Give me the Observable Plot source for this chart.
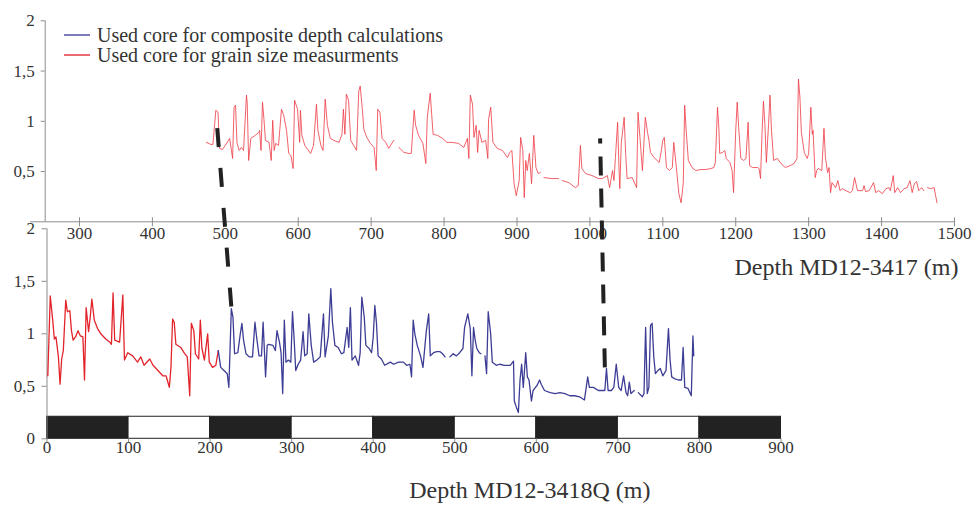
<!DOCTYPE html>
<html><head><meta charset="utf-8">
<script src="https://cdn.jsdelivr.net/npm/d3@7"></script>
<script src="https://cdn.jsdelivr.net/npm/@observablehq/plot@0.6"></script>
<style>
body{margin:0;background:#fff;}
#chart{position:relative;width:978px;height:508px;overflow:hidden;font-family:"Liberation Serif","Times New Roman",serif;}
#chart svg{position:absolute;left:0;top:0;}
#legend{position:absolute;left:64px;top:25px;font-size:20px;color:#333;line-height:20px;}
#legend .row{display:flex;align-items:center;height:20px;white-space:nowrap;}
#legend svg{position:static;margin-right:7px;}
</style></head><body><div id="chart"></div>
<script>
// ---- data ----
const legendLabels = ["Used core for composite depth calculations", "Used core for grain size measurments"];
const xLabelTop = "Depth MD12-3417 (m)";
const xLabelBottom = "Depth MD12-3418Q (m)";
const topTicks = [300,400,500,600,700,800,900,1000,1100,1200,1300,1400,1500];
const bottomTicks = [0,100,200,300,400,500,600,700,800,900];
const yTicksTop = [0.5,1,1.5,2];
const yTicksBottom = [0,0.5,1,1.5,2];
const stripEdges = [0,100,200,300,400,500,600,700,800,900];

// MD12-3417 (top, grain size core)
const topDepth = [474,480,483,487,490,492,496,500,506,510,
 512,514,516,519,522,525,529,530,532,535,
 541,546,547,549,551,553,555,560,563,565,
 567,569,573,577,580,584,587,590,593,595,
 599,602,603,605,609,612,617,621,625,627,
 631,634,637,640,644,649,656,660,662,664,
 666,669,672,676,680,683,685,688,690,694,
 699,704,707,709,712,715,720,724,731,735,
 738,745,752,755,759,761,765,771,775,777,
 781,783,785,791,798,804,811,820,827,832,
 834,836,839,841,844,846,848,852,857,860,
 861,864,867,873,880,887,890,893,896,899,
 903,905,908,910,912,914,917,920,923,926,
 929,932,934,937,948,957,960,962,971,980,
 984,987,989,994,1003,1012,1017,1024,1027,1031,
 1033,1035,1038,1040,1041,1043,1047,1049,1051,1058,
 1064,1066,1070,1072,1076,1079,1081,1083,1088,1095,
 1098,1100,1102,1105,1109,1113,1115,1118,1122,1125,
 1128,1130,1132,1135,1140,1145,1152,1159,1166,1170,
 1172,1175,1177,1178,1182,1185,1187,1192,1195,1197,
 1200,1202,1204,1207,1211,1214,1217,1219,1223,1230,
 1232,1234,1236,1238,1240,1242,1245,1247,1249,1252,
 1257,1262,1268,1275,1280,1284,1286,1288,1290,1294,
 1298,1300,1303,1305,1306,1309,1311,1313,1318,1321,
 1323,1326,1328,1330,1332,1337,1340,1343,1346,1351,
 1357,1360,1363,1367,1374,1376,1378,1383,1389,1392,
 1396,1401,1406,1410,1412,1416,1418,1422,1426,1431,
 1435,1439,1442,1445,1448,1451,1455,1458,1460,1463,
 1467,1472,1476];
const topValue = [.79,.77,.77,1.11,1.09,.73,.72,.76,.83,.63,
 1.14,1.16,.79,.71,.74,.71,1.26,1.19,.61,.83,
 .86,.89,.91,.71,1.19,1.02,.81,.79,.61,1.01,
 .71,.78,.76,1.12,1.06,.91,.68,.66,.53,1.21,
 1.12,.79,1.11,.86,.76,.73,.68,.76,1.17,.91,
 .76,.71,1.22,.96,.83,.81,.79,.87,1.12,.87,
 1.27,1.21,.81,.76,.71,1.30,1.35,1.11,.92,.84,
 .78,.74,.51,1.12,1.09,.83,.79,.73,.81,null,
 .74,.69,.68,.68,1.11,.96,.86,.78,.58,1.04,
 1.28,1.07,.87,.86,.83,.79,.79,.78,.74,.83,
 .63,1.26,1.17,.84,.96,.69,.91,.79,.81,.63,
 1.02,1.14,.79,.73,.71,.64,.69,.71,.38,.26,
 .41,.84,.71,.24,.61,.51,.68,.38,.86,.54,
 .48,.49,null,.44,.43,.43,null,.41,.39,.34,
 .36,.76,.53,.48,.46,.43,.43,.46,.34,.51,
 .41,.64,.99,.51,.33,.78,1.04,.68,.43,.44,
 .34,1.09,.71,.51,1.04,.89,.81,.69,.64,.59,
 .71,.81,.84,.54,.51,.54,.79,.58,.28,.19,
 .38,1.16,.91,.61,.54,.51,.52,.52,.53,.54,
 .59,1.14,.91,.68,.69,.71,.63,.59,.51,.29,
 .91,1.19,.94,.63,.61,.63,.99,.56,.54,.54,
 .53,.43,.87,1.20,.97,.59,.97,1.26,.91,.61,
 .63,.58,.54,.56,.58,.63,1.42,1.24,.89,.69,
 .63,.68,1.14,.87,.91,.44,.51,.53,.51,.93,
 .64,.49,.54,.29,.39,.34,.41,.31,.33,.31,
 .29,.31,.44,.31,.31,.36,.30,.31,.39,.29,
 .31,.28,.33,.34,.31,.46,.29,.34,.29,.33,
 .34,.41,.29,.38,.40,.31,.34,.31,null,.34,
 .33,.34,.19];

// MD12-3418Q (bottom) – part used for grain size (red)
const redDepth = [1,4,7,9,11,14,16,18,20,23,
 25,28,30,32,35,38,41,44,46,48,
 51,53,55,58,62,66,72,77,79,81,
 83,89,93,95,99,105,111,115,119,126,
 130,136,142,146,150,152,154,156,158,164,
 168,172,175,177,180,182,186,188,190,193,
 197,199,203,207,210];
const redValue = [.60,1.36,1.13,.95,.97,.78,.52,.76,.84,1.32,
 1.21,1.22,1.03,.94,.97,1.03,.98,.97,.56,1.25,
 1.02,1.16,1.33,1.13,1.05,1.00,.95,.92,.90,1.39,
 .94,.92,1.37,.75,.82,.79,.73,.78,.70,.76,
 .70,.65,.60,.60,.49,.68,1.14,1.11,.90,.87,
 .82,.78,.41,1.10,1.03,.81,.76,1.13,.86,.75,
 1.00,.73,.68,.70,.84];

// MD12-3418Q (bottom) – part used for composite depth (blue)
const blueDepth = [210,213,217,221,223,226,228,230,234,237,
 239,241,244,248,252,255,257,260,263,265,
 268,270,272,277,280,282,285,287,289,291,
 293,296,299,301,303,305,308,311,314,316,
 319,321,324,327,331,335,339,341,345,348,
 350,353,357,361,364,368,370,372,374,378,
 382,384,386,389,391,395,398,400,402,404,
 406,410,414,421,425,431,437,441,445,447,
 449,451,454,458,461,465,468,470,474,478,
 482,485,488,491,494,498,502,506,510,512,
 516,519,521,523,525,527,530,532,534,537,
 539,541,544,546,551,555,561,568,572,573,
 576,578,580,582,584,587,589,591,594,596,
 598,601,604,606,610,617,623,629,635,641,
 647,653,659,663,665,670,676,680,684,686,
 688,692,695,698,701,704,707,710,712,714,
 716,720,722,725,730,732,734,736,738,740,
 742,744,746,749,752,755,759,762,764,766,
 770,774,778,780,782,786,790,792,793];
const blueValue = [.84,.68,.65,.62,.49,1.24,1.16,.81,.82,1.00,
 1.10,.94,.81,.78,.78,1.11,.97,.79,.79,1.11,
 .59,.89,.90,.89,.84,1.03,.92,.82,.43,1.13,
 .73,.75,.73,1.21,.95,.65,.71,.75,1.02,.79,
 .81,1.19,.89,.73,.75,.78,1.19,.78,.98,1.43,
 1.11,.89,.87,.81,.82,1.06,.87,1.25,.75,.79,
 .70,.82,1.35,1.16,.89,.86,.82,.97,1.27,1.10,
 .79,.76,.70,.73,.71,.73,.73,.70,.71,.59,
 1.13,1.00,.89,.79,.68,1.02,1.19,.79,.82,.83,
 .83,.81,.78,null,.78,.81,.79,.82,.86,1.06,
 1.19,1.05,.60,1.06,.94,.86,.82,.81,null,.79,
 .62,1.21,1.00,.73,.70,.71,.70,.70,.74,.36,
 .29,.25,.56,.71,.49,.82,.59,.56,.36,.46,
 .48,.51,.56,.52,.46,.44,.43,.44,.43,.41,
 .41,.40,.37,.59,.49,.49,.46,.46,.46,.67,
 .46,.46,.49,.71,.49,.46,.60,.44,.41,.54,
 .43,.46,null,.44,.40,.43,1.06,.43,.49,1.08,
 1.10,.78,.62,.65,.67,.60,.65,1.05,.75,.59,
 .57,.56,.56,.87,.49,.48,.41,.98,.79];

// tie points between the two cores
const tieTopDepth = [487, 1014];
const tieTopValue = [1.11, 0.83];
const tieBottomDepth = [226, 684];
const tieBottomValue = [1.26, 0.68];

// ---- drawing ----
const W = 978, H = 508;
const serif = '"Liberation Serif", "Times New Roman", serif';
const fmt = d => String(d).replace(".", ",");
const str = d => String(d);
const rows = (xs, ys) => xs.map((x, i) => ({x, y: ys[i]}));
const AXIS = "#8c8c8c", INK = "#333";
const RED_TOP = "#ee3a44", RED = "#e3242b", BLUE = "#3d3d96";
const baseStyle = {background: "transparent", fontFamily: serif, fontSize: "17px", color: INK, overflow: "visible"};
const lab = {fontFamily: serif, fontSize: 17, fill: INK};

const topPlot = Plot.plot({
  width: W, height: H,
  marginLeft: 44.7, marginRight: 24, marginTop: 20.3, marginBottom: H - 221.3,
  x: {domain: [253, 1500], axis: null},
  y: {domain: [0, 2], axis: null},
  style: baseStyle,
  marks: [
    // axis lines and ticks (positions through the scales)
    Plot.ruleY([0], {x1: 233, x2: 1500, stroke: AXIS}),
    Plot.ruleX([253], {y1: 0, y2: 2, stroke: AXIS}),
    Plot.ruleX(topTicks, {x: d => d, y1: 0.04, y2: -0.05, stroke: AXIS}),
    Plot.ruleY(yTicksTop, {y: d => d, x1: 247.5, x2: 253, stroke: AXIS}),
    Plot.text(topTicks, {...lab, x: d => d, frameAnchor: "bottom", dy: 17.3, text: str}),
    Plot.text(yTicksTop, {...lab, y: d => d, frameAnchor: "left", textAnchor: "end", dx: -10.5, text: fmt}),
    Plot.line(rows(topDepth, topValue), {x: "x", y: "y", stroke: RED_TOP, strokeOpacity: 0.8, strokeWidth: 1}),
    Plot.text([xLabelTop], {frameAnchor: "bottom-right", textAnchor: "end", dx: 4, dy: 52.7, fontFamily: serif, fontSize: 24, fill: INK})
  ]
});

const stripRows = stripEdges.slice(0, -1).map((x1, i) => ({x1, x2: stripEdges[i + 1], k: i % 2}));

const botPlot = Plot.plot({
  width: W, height: H,
  marginLeft: 46.5, marginRight: W - 780.5, marginTop: 228.3, marginBottom: H - 438.3,
  x: {domain: [0, 900], axis: null},
  y: {domain: [0, 2], axis: null},
  style: baseStyle,
  marks: [
    Plot.rectY(stripRows, {x1: "x1", x2: "x2", y1: 0, y2: 0.21, fill: d => d.k ? "#ffffff" : "#222222", stroke: "#222", strokeWidth: 1}),
    Plot.ruleX([0], {y1: 0, y2: 2, stroke: AXIS}),
    Plot.ruleX(bottomTicks, {x: d => d, y1: 0, y2: -0.04, stroke: AXIS}),
    Plot.ruleY(yTicksBottom, {y: d => d, x1: -6.1, x2: 0, stroke: AXIS}),
    Plot.text(bottomTicks, {...lab, x: d => d, frameAnchor: "bottom", dy: 13.7, text: str}),
    Plot.text(yTicksBottom, {...lab, y: d => d, frameAnchor: "left", textAnchor: "end", dx: -12, text: fmt}),
    Plot.line(rows(redDepth, redValue), {x: "x", y: "y", stroke: RED, strokeWidth: 1.3}),
    Plot.line(rows(blueDepth, blueValue), {x: "x", y: "y", stroke: BLUE, strokeWidth: 1.3}),
    Plot.text([xLabelBottom], {frameAnchor: "bottom-right", textAnchor: "end", dx: -130.5, dy: 59, fontFamily: serif, fontSize: 24, fill: INK})
  ]
});

const tx = topPlot.scale("x"), ty = topPlot.scale("y");
const bx = botPlot.scale("x"), by = botPlot.scale("y");
const tieRows = tieTopDepth.map((d, i) => ({
  x1: bx.apply(tieBottomDepth[i]), y1: by.apply(tieBottomValue[i]),
  x2: tx.apply(d), y2: ty.apply(tieTopValue[i])
}));
const tieDash = ["19,21", "19,13"];
const tiePlot = Plot.plot({
  width: W, height: H, margin: 0,
  x: {type: "identity", axis: null}, y: {type: "identity", axis: null},
  style: {background: "transparent", overflow: "visible"},
  marks: tieRows.map((r, i) => Plot.link([r], {x1: "x1", y1: "y1", x2: "x2", y2: "y2", stroke: "#222", strokeWidth: 4, strokeDasharray: tieDash[i]}))
});

const legend = document.createElement("div");
legend.id = "legend";
[BLUE, RED].forEach((c, i) => {
  const row = document.createElement("div");
  row.className = "row";
  row.innerHTML = `<svg width="26" height="4"><line x1="0" x2="26" y1="2" y2="2" stroke="${c}" stroke-width="1.6" stroke-opacity="0.85"/></svg><span>${legendLabels[i]}</span>`;
  legend.appendChild(row);
});

const chart = document.getElementById("chart");
chart.append(topPlot, botPlot, tiePlot, legend);
</script>
</body></html>
